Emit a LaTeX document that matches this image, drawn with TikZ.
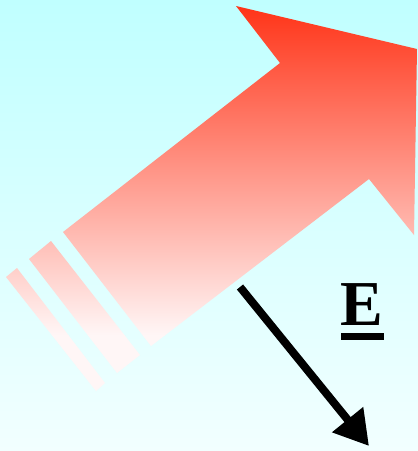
\documentclass[tikz,border=0pt]{standalone}
\usepackage{fontspec}
\setmainfont{Liberation Serif}
\usetikzlibrary{arrows.meta}
\definecolor{bgtop}{RGB}{192,255,255}
\definecolor{bgbot}{RGB}{242,255,255}
\definecolor{redtop}{RGB}{255,52,24}
\definecolor{redbot}{RGB}{255,246,246}
\tikzset{
  fieldarrow/.style={line width=8pt,-{Triangle[length=34pt,width=38pt]}},
  labeltext/.style={inner sep=0pt,font=\fontsize{64}{64}\selectfont\bfseries}
}
\begin{document}
\begin{tikzpicture}[x=1pt,y=-1pt]
\useasboundingbox (0,0) rectangle (418,451);
\shade[top color=bgtop,bottom color=bgbot] (0,0) rectangle (418,451);
% big arrow with tail stripes, one common vertical gradient
\begin{scope}
\clip (236,6) -- (417,49) -- (414,235) -- (369,179) -- (151,346) -- (63,232) -- (280,63) -- cycle
      (29,259) -- (51,241) -- (140,355) -- (117,373) -- cycle
      (6,277) -- (17,268) -- (105,383) -- (96,391) -- cycle;
\shade[top color=redtop,bottom color=redbot] (0,6) rectangle (418,335);
\fill[redbot] (0,334.5) rectangle (418,392);
\end{scope}
% field vector
\coordinate (estart) at (240,287);
\coordinate (eend) at (369,446);
\draw[fieldarrow] (estart) -- (eend);
\node[labeltext,anchor=base] (elabel) at (362,325) {E};
\fill (341,333) rectangle (384,340);
\end{tikzpicture}
\end{document}
